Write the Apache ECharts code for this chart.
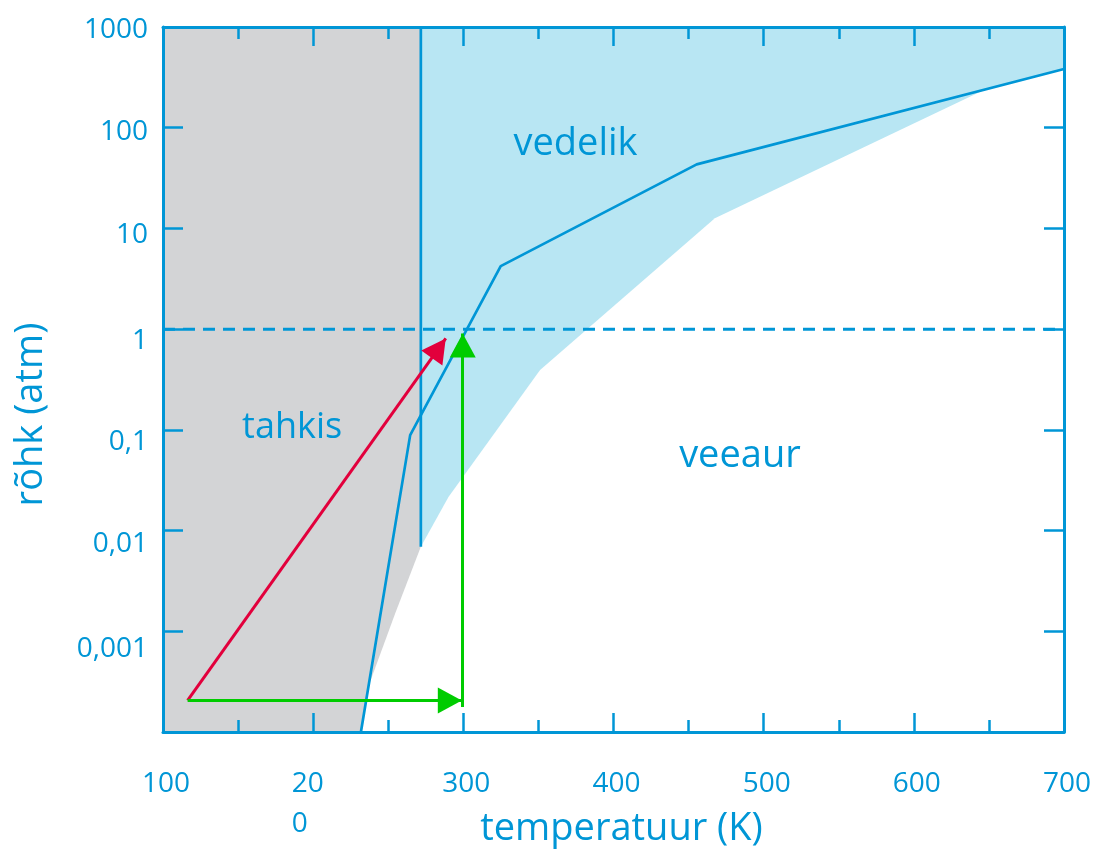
<!DOCTYPE html>
<html><head><meta charset="utf-8">
<script src="https://cdn.jsdelivr.net/npm/echarts@6/dist/echarts.min.js"></script>
<style>html,body{margin:0;padding:0;background:#fff}#c{width:1098px;height:850px}</style>
</head><body><div id="c"></div>
<script>
// ---- data ----
const xTicks = [100, 200, 300, 400, 500, 600, 700];
const xTickLabels = ['100', '20\n0', '300', '400', '500', '600', '700'];
const yTickExp = [3, 2, 1, 0, -1, -2, -3];
const yTickLabels = ['1000', '100', '10', '1', '0,1', '0,01', '0,001'];
const solidRegion = [[100, 1000], [271.7, 1000]];
const liquidRegion = [[271.7, 1000], [700, 1000]];
const gasBoundary = [[231.8, 0.0001], [237.5, 0.000303], [254.6, 0.0015], [271.7, 0.0069], [290.1, 0.0216], [351.1, 0.392], [467.5, 12.6], [649.2, 246], [700, 383]];
const phaseLine = [[231.8, 0.0001], [264.6, 0.0886], [324.9, 4.22], [455.4, 43.3], [700, 383]];
const meltingLine = [[271.7, 0.0069], [271.7, 1000]];
const oneAtm = [[100, 1], [700, 1]];
const redArrow = [[116.4, 0.000206], [288.3, 0.809]];
const greenArrowH = [[116.4, 0.000206], [299.0, 0.000206]];
const greenArrowV = [[299.6, 0.000177], [299.6, 0.906]];
const regionNames = ['tahkis', 'vedelik', 'veeaur'];
const regionPos = [[186.0, 0.106], [374.7, 68.5], [484.2, 0.055]];

// ---- styles ----
const BLUE = '#0096d6';
const FONT = 'Open Sans';
const labelShift = {3: 3, 2: 4, 1: 7, 0: 12, '-1': 12, '-2': 13, '-3': 18};
const regionFont = {tahkis: 36, vedelik: 38, veeaur: 38};

const yRich = {};
Object.keys(labelShift).forEach(k => {
  yRich['s' + String(k).replace('-', 'm')] = {
    padding: [2 * labelShift[k], 0, 0, 0], fontSize: 28, color: BLUE, fontFamily: FONT
  };
});

function arrowSeries(pts, color) {
  return {
    type: 'line', data: [], silent: true,
    markLine: {
      silent: true, animation: false,
      symbol: ['none', 'triangle'], symbolSize: [26, 24], symbolOffset: [0, [0, 12]],
      label: {show: false},
      lineStyle: {color: color, width: 3, type: 'solid'},
      itemStyle: {color: color},
      emphasis: {disabled: true},
      data: [[{coord: pts[0]}, {coord: pts[1]}]]
    }
  };
}
function areaSeries(data, color) {
  return {
    type: 'line', data: data, symbol: 'none', silent: true,
    lineStyle: {width: 0}, areaStyle: {color: color, opacity: 1, origin: 'start'}
  };
}

const chart = echarts.init(document.getElementById('c'), null, {renderer: 'canvas'});
const axisLineStyle = {color: BLUE, width: 3};
chart.setOption({
  animation: false,
  textStyle: {fontFamily: FONT},
  grid: {left: 163, right: 34, top: 27, bottom: 118, show: false, containLabel: false, outerBoundsMode: 'none'},
  xAxis: [{
    type: 'value', min: 100, max: 700, interval: 100, position: 'bottom', z: 10,
    name: 'temperatuur (K)', nameLocation: 'middle', nameGap: 78, nameMoveOverlap: false,
    nameTextStyle: {color: BLUE, fontSize: 38, fontFamily: FONT, padding: [0, 0, 0, 16]},
    axisLine: {show: true, onZero: false, lineStyle: axisLineStyle},
    axisTick: {show: true, inside: true, length: 19, lineStyle: {color: BLUE, width: 2.5}},
    minorTick: {show: true, splitNumber: 2, length: 12, lineStyle: {color: BLUE, width: 2.5}},
    splitLine: {show: false}, minorSplitLine: {show: false},
    axisLabel: {
      color: BLUE, fontSize: 28, fontFamily: FONT, margin: 32, lineHeight: 40,
      padding: [0, 0, 0, 6],
      formatter: v => {
        const i = xTicks.indexOf(Math.round(v));
        if (i < 0) return '';
        const t = xTickLabels[i];
        if (t.indexOf('\n') >= 0) return t.split('\n').map(s => '{l|' + s + '}').join('\n');
        return t;
      },
      rich: {l: {width: 49, align: 'left', lineHeight: 40, fontSize: 28, color: BLUE, fontFamily: FONT}}
    }
  }, {
    type: 'value', min: 100, max: 700, interval: 100, position: 'top', z: 10,
    axisLine: {show: true, onZero: false, lineStyle: axisLineStyle},
    axisTick: {show: true, inside: true, length: 19, lineStyle: {color: BLUE, width: 2.5}},
    minorTick: {show: true, splitNumber: 2, length: 12, lineStyle: {color: BLUE, width: 2.5}},
    splitLine: {show: false}, axisLabel: {show: false}
  }],
  yAxis: [{
    type: 'log', logBase: 10, min: 0.0001, max: 1000, interval: 1, position: 'left', z: 10,
    name: 'rõhk (atm)', nameLocation: 'middle', nameGap: 113, nameRotate: 90, nameMoveOverlap: false,
    nameTextStyle: {color: BLUE, fontSize: 38, fontFamily: FONT, padding: [0, 70, 0, 0]},
    axisLine: {show: true, onZero: false, lineStyle: axisLineStyle},
    axisTick: {show: true, inside: true, length: 20, lineStyle: {color: BLUE, width: 2.5}},
    splitLine: {show: false},
    axisLabel: {
      color: BLUE, fontSize: 28, fontFamily: FONT, margin: 15,
      formatter: v => {
        const e = Math.round(Math.log10(v));
        const i = yTickExp.indexOf(e);
        if (i < 0) return '';
        return '{s' + String(e).replace('-', 'm') + '|' + yTickLabels[i] + '}';
      },
      rich: yRich
    }
  }, {
    type: 'log', logBase: 10, min: 0.0001, max: 1000, interval: 1, position: 'right', z: 10,
    axisLine: {show: true, onZero: false, lineStyle: axisLineStyle},
    axisTick: {show: true, inside: true, length: 20, lineStyle: {color: BLUE, width: 2.5}},
    splitLine: {show: false}, axisLabel: {show: false}
  }],
  series: [
    areaSeries(solidRegion, '#d3d4d6'),
    areaSeries(liquidRegion, '#b8e6f3'),
    areaSeries(gasBoundary, '#ffffff'),
    {type: 'line', data: phaseLine, symbol: 'none', silent: true, lineStyle: {color: BLUE, width: 2.7}},
    {type: 'line', data: meltingLine, symbol: 'none', silent: true, lineStyle: {color: BLUE, width: 2.7}},
    {type: 'line', data: oneAtm, symbol: 'none', silent: true, lineStyle: {color: BLUE, width: 3, type: [12, 8]}},
    arrowSeries(redArrow, '#e2003c'),
    arrowSeries(greenArrowH, '#00cc00'),
    arrowSeries(greenArrowV, '#00cc00'),
    {
      type: 'line', data: [], silent: true,
      markPoint: {
        silent: true, animation: false, symbol: 'circle', symbolSize: 2,
        itemStyle: {color: 'rgba(255,255,255,0)'},
        data: regionNames.map((n, i) => ({
          name: n, coord: regionPos[i],
          label: {show: true, position: [1, 1], align: 'center', verticalAlign: 'middle',
                  formatter: n, color: BLUE, fontSize: regionFont[n], fontFamily: FONT}
        }))
      }
    }
  ]
});
</script></body></html>
